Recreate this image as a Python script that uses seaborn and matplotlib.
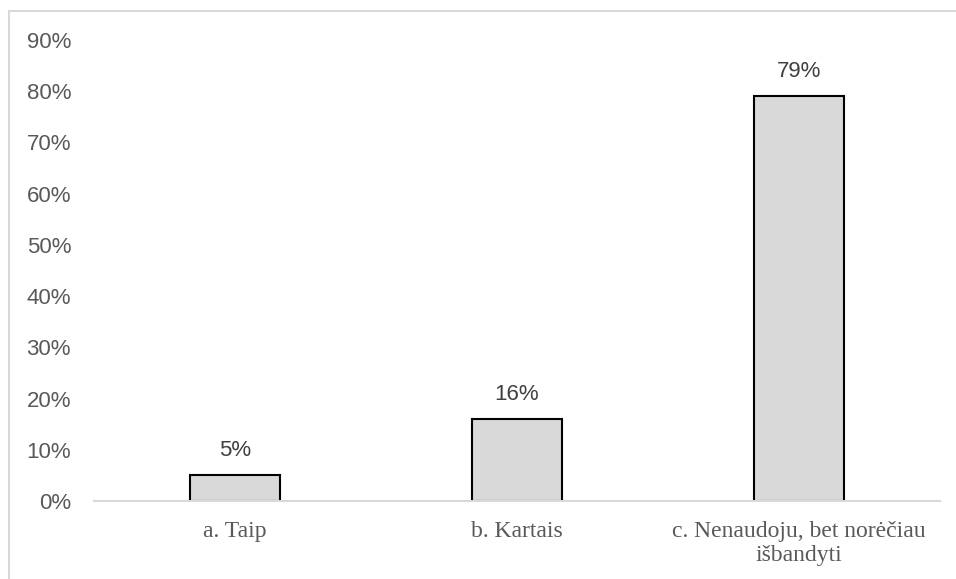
import matplotlib
matplotlib.use("Agg")
import matplotlib.pyplot as plt
from matplotlib.lines import Line2D
from matplotlib.ticker import FuncFormatter
import seaborn as sns
import pandas as pd

categories = ["a. Taip", "b. Kartais", "c. Nenaudoju, bet norėčiau\nišbandyti"]
values = [0.05, 0.16, 0.79]
value_labels = ["5%", "16%", "79%"]
y_ticks = [0.0, 0.1, 0.2, 0.3, 0.4, 0.5, 0.6, 0.7, 0.8, 0.9]

sns.set_theme(style="white")
plt.rcParams["font.family"] = ["Liberation Sans", "DejaVu Sans"]

df = pd.DataFrame({"answer": categories, "share": values})

fig = plt.figure(figsize=(9.56, 5.79), dpi=100)
ax = fig.add_axes([94 / 956, 78 / 579, 846 / 956, 461 / 579])

sns.barplot(data=df, x="answer", y="share", ax=ax, color="#D9D9D9",
            saturation=1, edgecolor="black", linewidth=1.5, width=0.316)

ax.set_ylim(0, 0.9)
ax.set_yticks(y_ticks)
ax.yaxis.set_major_formatter(FuncFormatter(lambda v, _: f"{v * 100:.0f}%"))
ax.set_xlim(-0.5, 2.5)
ax.set_xlabel("")
ax.set_ylabel("")

for s in ["top", "right", "left"]:
    ax.spines[s].set_visible(False)
ax.spines["bottom"].set_color("#D9D9D9")
ax.spines["bottom"].set_linewidth(1.5)

ax.tick_params(axis="both", length=0)
ax.tick_params(axis="y", labelsize=16, labelcolor="#595959", pad=16.5)
ax.tick_params(axis="x", pad=14.5)
for lbl in ax.get_xticklabels():
    lbl.set_fontfamily(["Liberation Serif", "DejaVu Serif"])
    lbl.set_fontsize(17)
    lbl.set_color("#595959")
    lbl.set_linespacing(1.2)

for patch, text in zip(ax.patches, value_labels):
    ax.annotate(text, (patch.get_x() + patch.get_width() / 2, patch.get_height()),
                xytext=(0, 10), textcoords="offset points", ha="center", va="bottom",
                fontsize=16, color="#404040")

# light chart-area frame
fig.add_artist(Line2D([9 / 956, 9 / 956], [0, 1 - 11 / 579], transform=fig.transFigure,
                      color="#D9D9D9", linewidth=1.5))
fig.add_artist(Line2D([9 / 956, 1], [1 - 11 / 579, 1 - 11 / 579], transform=fig.transFigure,
                      color="#D9D9D9", linewidth=1.5))

fig.savefig("out.png", dpi=100)
